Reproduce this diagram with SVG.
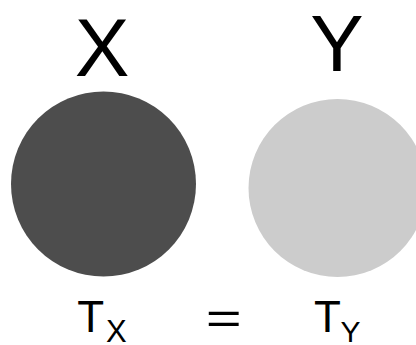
<svg xmlns="http://www.w3.org/2000/svg" width="416" height="345" viewBox="0 0 416 345">
<style>
text { font-family: "Liberation Sans", Arial, sans-serif; fill: #000; }
</style>
<rect width="416" height="345" fill="#fff"/>
<g id="nodeX">
<circle cx="103.5" cy="184" r="92.5" fill="#4d4d4d"/>
<text x="102" y="75.5" font-size="82" text-anchor="middle">X</text>
</g>
<g id="nodeY">
<circle cx="337.5" cy="188" r="89" fill="#cccccc"/>
<text x="337" y="71" font-size="80" text-anchor="middle">Y</text>
</g>
<g id="equation">
<text x="77.3" y="332.3" font-size="44">T</text>
<text x="106" y="342.3" font-size="31">X</text>
<text transform="translate(223.8,333.5) scale(1.4,1)" font-size="44" text-anchor="middle">=</text>
<text x="314" y="332.3" font-size="44">T</text>
<text x="340.5" y="342.3" font-size="30">Y</text>
</g>
<g id="connectors"/>
</svg>
